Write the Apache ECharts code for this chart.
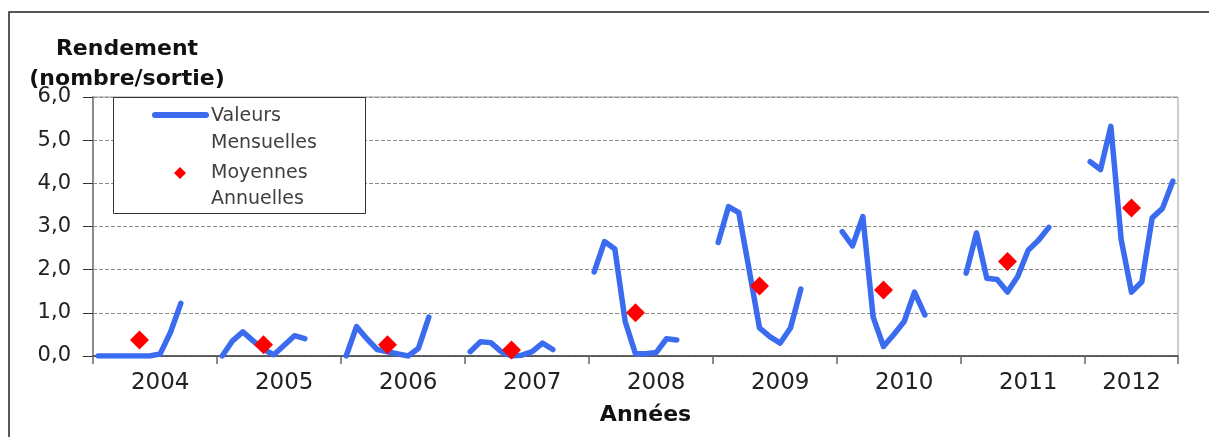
<!DOCTYPE html>
<html>
<head>
<meta charset="utf-8">
<script src="https://cdn.jsdelivr.net/npm/echarts@6/dist/echarts.min.js"></script>
<style>
html,body{margin:0;padding:0;background:#fff;}
#chart{width:1209px;height:437px;}
</style>
</head>
<body>
<div id="chart"></div>
<script>
// ---- data ----
var years = ['2004','2005','2006','2007','2008','2009','2010','2011','2012'];
var monthNames = ['janv','févr','mars','avr','mai','juin','juil','août','sept','oct','nov','déc'];
var slotsPerYear = [12,12,12,12,12,12,12,12,9];
var monthly2004 = [0, 0, 0, 0, 0, 0, 0.05, 0.55, 1.22];
var monthly2005 = [0, 0.35, 0.56, 0.35, 0.15, 0.03, 0.25, 0.47, 0.40];
var monthly2006 = [0, 0.68, 0.40, 0.15, 0.10, 0.05, 0.0, 0.18, 0.90];
var monthly2007 = [0.10, 0.33, 0.31, 0.10, 0.0, 0.02, 0.10, 0.30, 0.15];
var monthly2008 = [1.95, 2.65, 2.48, 0.80, 0.05, 0.05, 0.08, 0.40, 0.37];
var monthly2009 = [2.63, 3.46, 3.32, 2.00, 0.65, 0.45, 0.30, 0.65, 1.55];
var monthly2010 = [2.88, 2.55, 3.23, 0.90, 0.22, 0.50, 0.80, 1.48, 0.95];
var monthly2011 = [1.92, 2.85, 1.80, 1.77, 1.48, 1.85, 2.45, 2.68, 2.98];
var monthly2012 = [4.50, 4.32, 5.32, 2.70, 1.48, 1.72, 3.20, 3.42, 4.05];
var annualMeans = [0.37, 0.26, 0.26, 0.14, 1.00, 1.62, 1.53, 2.19, 3.43];
var annualMonthIndex = 4; // month slot where the annual mean is drawn

// ---- build category axis and series arrays ----
var monthlyByYear = [monthly2004, monthly2005, monthly2006, monthly2007, monthly2008,
                     monthly2009, monthly2010, monthly2011, monthly2012];
var categories = [], monthlySeries = [], annualSeries = [], labelAt = {}, tickAt = {};
years.forEach(function (y, k) {
  var n = slotsPerYear[k];
  tickAt[categories.length] = true;
  labelAt[categories.length + Math.floor(n / 2)] = y;
  for (var m = 0; m < n; m++) {
    categories.push(y + '-' + monthNames[m]);
    var v = monthlyByYear[k][m];
    monthlySeries.push(v === undefined ? null : v);
    annualSeries.push(m === annualMonthIndex ? annualMeans[k] : null);
  }
});

var chart = echarts.init(document.getElementById('chart'));
var FONT = 'DejaVu Sans';
var BLUE = '#3b6cf0';
var legendText = {fontFamily: FONT, fontSize: 19, fill: '#404040', align: 'left', verticalAlign: 'middle'};
function lt(t) { var s = {}; for (var k in legendText) s[k] = legendText[k]; s.text = t; return s; }
chart.setOption({
  animation: false,
  backgroundColor: '#fff',
  title: {
    text: 'Rendement\n(nombre/sortie)',
    left: 122, top: 29, textAlign: 'center',
    textStyle: {fontFamily: FONT, fontSize: 22, fontWeight: 'bold', color: '#111', lineHeight: 30}
  },
  grid: {left: 93, top: 97, right: 31, bottom: 81, show: true, borderColor: '#9a9a9a', borderWidth: 1, backgroundColor: 'transparent'},
  xAxis: {
    type: 'category',
    data: categories,
    boundaryGap: true,
    name: 'Années',
    nameLocation: 'middle',
    nameGap: 48,
    nameTextStyle: {fontFamily: FONT, fontSize: 22, fontWeight: 'bold', color: '#111', padding: [0, 0, 0, 20]},
    axisLine: {lineStyle: {color: '#404040', width: 1.5}},
    axisTick: {show: true, length: 8, lineStyle: {color: '#666', width: 1.5},
               interval: function (i) { return !!tickAt[i]; }},
    axisLabel: {show: true, margin: 16, fontFamily: FONT, fontSize: 23, color: '#222',
                interval: function (i) { return labelAt[i] !== undefined; },
                formatter: function (v, i) { return labelAt[i] || ''; }},
    splitLine: {show: false}
  },
  yAxis: {
    type: 'value',
    min: 0, max: 6, interval: 1,
    axisLine: {show: true, lineStyle: {color: '#8c8c8c', width: 2}},
    axisTick: {show: true, length: 10, lineStyle: {color: '#333', width: 1}},
    axisLabel: {margin: 22, fontFamily: FONT, fontSize: 21, color: '#222',
                formatter: function (v) { return v.toFixed(1).replace('.', ','); }},
    splitLine: {show: true, lineStyle: {color: '#8a8a8a', width: 1, type: [4, 2]}}
  },
  series: [
    {
      name: 'Valeurs Mensuelles', type: 'line', data: monthlySeries,
      connectNulls: false, showSymbol: false, symbol: 'none',
      lineStyle: {color: BLUE, width: 5.5, cap: 'round', join: 'round'},
      z: 2
    },
    {
      name: 'Moyennes Annuelles', type: 'scatter', data: annualSeries,
      symbol: 'diamond', symbolSize: 19,
      itemStyle: {color: '#ff0000', opacity: 1},
      z: 3
    }
  ],
  graphic: [
    {type: 'rect', z: 0, silent: true, shape: {x: 9, y: 12, width: 1400, height: 600},
     style: {fill: 'none', stroke: '#222', lineWidth: 1.5}},
    {type: 'rect', zlevel: 1, z: 100, shape: {x: 113.5, y: 97.5, width: 252, height: 116},
     style: {fill: '#fff', stroke: '#333', lineWidth: 1}},
    {type: 'line', zlevel: 1, z: 101, shape: {x1: 155, y1: 115, x2: 206, y2: 115},
     style: {stroke: BLUE, lineWidth: 6, lineCap: 'round'}},
    {type: 'text', zlevel: 1, z: 101, x: 211, y: 116, style: lt('Valeurs')},
    {type: 'text', zlevel: 1, z: 101, x: 211, y: 143, style: lt('Mensuelles')},
    {type: 'polygon', zlevel: 1, z: 101, shape: {points: [[180, 167], [186, 173], [180, 179], [174, 173]]},
     style: {fill: '#ff0000'}},
    {type: 'text', zlevel: 1, z: 101, x: 211, y: 173, style: lt('Moyennes')},
    {type: 'text', zlevel: 1, z: 101, x: 211, y: 199, style: lt('Annuelles')}
  ]
});
</script>
</body>
</html>
